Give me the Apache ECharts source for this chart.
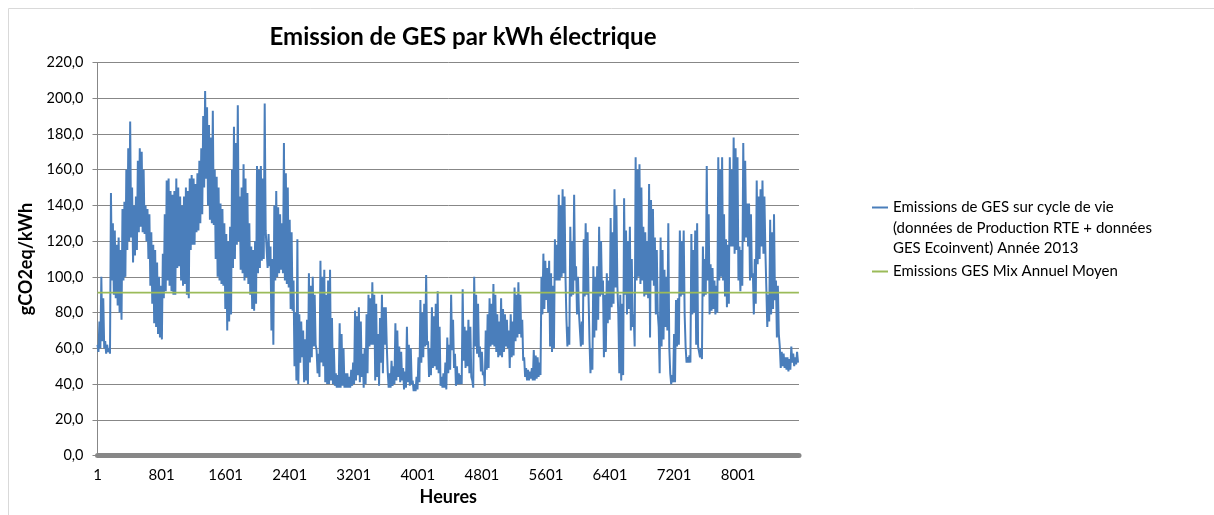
<!DOCTYPE html>
<html>
<head>
<meta charset="utf-8">
<title>Emission de GES par kWh électrique</title>
<script src="https://cdn.jsdelivr.net/npm/echarts@6/dist/echarts.min.js"></script>
<style>
  html, body { margin: 0; padding: 0; background: #fff; }
  #main { width: 1214px; height: 515px; }
</style>
</head>
<body>
<div id="main"></div>
<script>
    // one value every 12 hours (alternating day highs / lows)
    var hourStep = 12;
    var emissions = [
        62,58, 75,60, 100,64, 88,60, 64,57, 62,58, 60,57, 147,98, 130,90, 126,88,
        118,84, 122,80, 115,76, 138,98, 142,100, 160,115, 172,120, 187,122, 150,108, 140,112,
        145,115, 165,125, 172,128, 170,125, 160,124, 140,120, 138,110, 135,95, 125,85, 118,74,
        115,72, 108,68, 100,66, 95,65, 113,88, 135,92, 154,98, 155,95, 148,92, 146,90,
        148,90, 155,105, 150,106, 145,98, 140,95, 145,96, 150,90, 148,88, 155,115, 157,118,
        155,118, 152,125, 158,126, 165,130, 172,135, 190,150, 204,155, 195,140, 185,132, 178,130,
        193,129, 160,110, 156,100, 150,98, 141,96, 138,95, 130,82, 124,70, 120,75, 128,79,
        160,105, 184,110, 175,118, 196,120, 145,104, 150,102, 163,98, 155,100, 147,96, 130,90,
        117,82, 115,81, 120,85, 162,102, 160,105, 162,109, 155,110, 197,126, 126,105, 124,106,
        117,70, 110,62, 140,98, 148,100, 139,102, 135,104, 130,102, 175,98, 158,96, 150,94,
        132,82, 125,81, 98,50, 80,42, 121,40, 79,52, 75,55, 70,41, 65,42, 76,40,
        102,52, 95,55, 100,61, 90,62, 59,46, 57,44, 109,52, 100,50, 104,41, 90,40,
        98,40, 104,42, 77,40, 60,39, 46,38, 45,38, 74,38, 68,39, 60,38, 46,38,
        46,38, 44,38, 48,39, 52,40, 81,42, 78,45, 83,41, 75,44, 57,38, 60,40,
        79,46, 90,61, 88,62, 97,62, 90,42, 85,44, 68,39, 77,52, 90,46, 83,62,
        83,62, 47,38, 46,38, 53,39, 50,40, 74,42, 70,44, 61,41, 58,42, 49,37,
        47,38, 72,41, 62,39, 60,40, 42,36, 40,36, 44,37, 55,41, 87,52, 80,55,
        85,61, 101,62, 64,44, 60,45, 83,49, 78,50, 85,48, 92,46, 72,39, 44,38,
        46,38, 52,37, 66,46, 62,48, 90,59, 76,49, 57,39, 50,40, 46,40, 45,40,
        93,53, 72,49, 70,50, 76,46, 72,44, 42,38, 100,61, 90,57, 85,55, 61,47,
        58,45, 47,39, 70,48, 79,49, 88,61, 85,62, 96,61, 90,58, 79,55, 75,56,
        88,55, 82,58, 79,61, 76,60, 70,49, 79,55, 75,56, 94,64, 90,66, 97,68,
        90,66, 76,53, 55,44, 49,42, 48,42, 47,43, 49,42, 59,42, 56,43, 55,44,
        52,45, 100,79, 113,82, 109,87, 105,80, 109,61, 102,58, 95,60, 121,98, 118,98,
        146,98, 140,100, 149,102, 145,100, 76,61, 72,62, 128,89, 120,90, 146,98, 106,79,
        100,80, 79,61, 75,62, 121,89, 130,90, 125,89, 64,46, 60,48, 106,66, 100,70,
        106,76, 128,89, 120,90, 98,55, 90,58, 102,74, 98,76, 133,83, 125,85, 149,94,
        140,95, 79,46, 90,42, 85,45, 144,90, 126,79, 120,82, 128,70, 110,72, 79,61,
        167,98, 160,100, 163,96, 150,98, 128,89, 125,90, 120,88, 152,66, 143,98, 138,95,
        122,79, 115,80, 72,46, 122,61, 115,65, 104,72, 100,70, 130,61, 46,40, 45,41,
        68,41, 87,61, 88,62, 126,89, 120,90, 126,79, 61,52, 55,52, 56,52, 124,79,
        115,80, 126,62, 130,61, 62,55, 60,54, 117,89, 110,90, 162,98, 135,79, 107,81,
        105,82, 98,79, 95,80, 167,98, 160,100, 167,98, 135,89, 121,83, 118,85, 167,117,
        160,117, 178,113, 172,115, 167,98, 117,92, 115,95, 175,120, 165,122, 141,117, 141,98,
        135,100, 102,79, 110,85, 154,107, 145,110, 149,117, 154,113, 145,115, 94,72, 90,75,
        132,79, 125,82, 135,87, 98,66, 95,68, 61,49, 58,50, 57,49, 55,48, 55,47,
        54,48, 61,52, 57,50, 55,51, 58,52
    ];
    var meanEmission = 91.2;
    var hoursInYear = 8760;
    var xTickStep = 800;
    var lastXLabel = 8001;
    var yMax = 220, yStep = 20;

    var serieName = 'Emissions de GES sur cycle de vie (données de Production RTE + données GES Ecoinvent) Année 2013';
    var legendLines = ['Emissions de GES sur cycle de vie', '(données de Production RTE + données', 'GES Ecoinvent) Année 2013'];
    var meanName = 'Emissions GES Mix Annuel Moyen';

    var lineData = emissions.map(function (v, i) { return [i * hourStep, v]; });
    var meanData = [[0, meanEmission], [hoursInYear - 1, meanEmission]];

    var font = 'Lato';
    var myChart = echarts.init(document.getElementById('main'));

    var option = {
        animation: false,
        title: {
            text: 'Emission de GES par kWh électrique',
            left: 458,
            top: 20,
            textAlign: 'center',
            textStyle: { fontFamily: font, fontWeight: 'bold', fontSize: 24, color: '#000' }
        },
        grid: { left: 97.5, right: 415, top: 62.5, bottom: 59.5 },
        legend: [{
            data: [serieName],
            left: 872, top: 200, padding: 0,
            icon: 'rect', itemWidth: 16, itemHeight: 2, itemGap: 0,
            formatter: function () { return legendLines[0]; },
            textStyle: { fontFamily: font, fontSize: 15, color: '#000' }
        }, {
            data: [meanName],
            left: 872, top: 264, padding: 0,
            icon: 'rect', itemWidth: 16, itemHeight: 2, itemGap: 0,
            textStyle: { fontFamily: font, fontSize: 15, color: '#000' }
        }],
        graphic: [
            { type: 'rect', shape: { x: 8.5, y: 8.5, width: 1400, height: 800 },
              style: { fill: 'none', stroke: '#d9d9d9', lineWidth: 1 }, silent: true },
            { type: 'text', x: 893, y: 228, style: { text: legendLines[1], font: '15px Lato', fill: '#000', verticalAlign: 'middle' } },
            { type: 'text', x: 893, y: 248, style: { text: legendLines[2], font: '15px Lato', fill: '#000', verticalAlign: 'middle' } }
        ],
        xAxis: {
            type: 'value',
            min: 0, max: hoursInYear, interval: xTickStep,
            name: 'Heures', nameLocation: 'middle', nameGap: 33,
            nameTextStyle: { fontFamily: font, fontWeight: 'bold', fontSize: 18, color: '#000' },
            axisLine: { lineStyle: { color: '#878787', width: 5 } },
            axisTick: { show: false },
            splitLine: { show: false },
            axisLabel: {
                margin: 12, fontFamily: font, fontSize: 15, color: '#000',
                showMaxLabel: false,
                formatter: function (v) { return v + 1 <= lastXLabel ? String(v + 1) : ''; }
            }
        },
        yAxis: {
            type: 'value',
            min: 0, max: yMax, interval: yStep,
            name: 'gCO2eq/kWh', nameLocation: 'middle', nameGap: 53, nameRotate: 90,
            nameTextStyle: { fontFamily: font, fontWeight: 'bold', fontSize: 18, color: '#000' },
            axisLine: { show: true, lineStyle: { color: '#878787', width: 1 } },
            axisTick: { show: true, inside: false, length: 5, lineStyle: { color: '#878787' } },
            splitLine: { lineStyle: { color: '#878787', width: 1 } },
            axisLabel: {
                margin: 14, fontFamily: font, fontSize: 14.5, color: '#000',
                formatter: function (v) { return v.toFixed(1).replace('.', ','); }
            }
        },
        series: [{
            name: serieName,
            type: 'line',
            data: lineData,
            symbol: 'none',
            sampling: 'none',
            color: '#4a7ebb',
            lineStyle: { width: 2, color: '#4a7ebb' },
            z: 3
        }, {
            name: meanName,
            type: 'line',
            data: meanData,
            symbol: 'none',
            color: '#9bbb59',
            lineStyle: { width: 1.6, color: '#9bbb59' },
            z: 4
        }]
    };

    myChart.setOption(option);
</script>
</body>
</html>
